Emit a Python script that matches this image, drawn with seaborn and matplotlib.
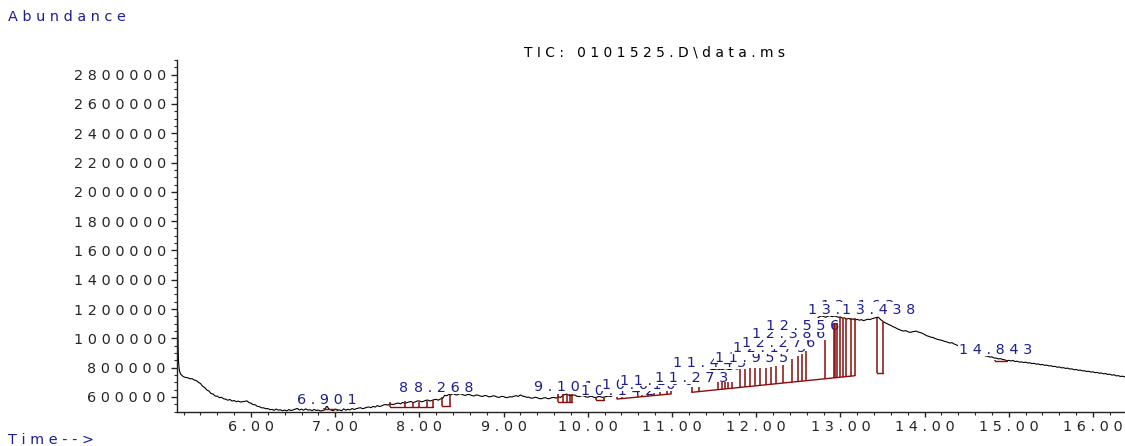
import matplotlib
matplotlib.use("Agg")
import numpy as np
import pandas as pd
import matplotlib.pyplot as plt
import seaborn as sns
from matplotlib.ticker import MultipleLocator, FixedLocator, FuncFormatter
from matplotlib.patches import Rectangle
from matplotlib.transforms import IdentityTransform

# TIC trace: time (min) and abundance (thousands)
time_min = [
    5.130, 5.132, 5.134, 5.137, 5.141, 5.147, 5.155, 5.165, 5.178, 5.190,
    5.200, 5.225, 5.250, 5.275, 5.300, 5.325, 5.350, 5.375, 5.400, 5.425,
    5.450, 5.475, 5.500, 5.525, 5.550, 5.575, 5.600, 5.625, 5.650, 5.675,
    5.700, 5.725, 5.750, 5.775, 5.800, 5.825, 5.850, 5.875, 5.900, 5.925,
    5.950, 5.975, 6.000, 6.025, 6.050, 6.075, 6.100, 6.125, 6.150, 6.175,
    6.200, 6.225, 6.250, 6.275, 6.300, 6.325, 6.350, 6.375, 6.400, 6.425,
    6.450, 6.475, 6.500, 6.525, 6.550, 6.575, 6.600, 6.625, 6.650, 6.675,
    6.700, 6.725, 6.750, 6.775, 6.800, 6.825, 6.850, 6.875, 6.900, 6.925,
    6.950, 6.975, 7.000, 7.025, 7.050, 7.075, 7.100, 7.125, 7.150, 7.175,
    7.200, 7.225, 7.250, 7.275, 7.300, 7.325, 7.350, 7.375, 7.400, 7.425,
    7.450, 7.475, 7.500, 7.525, 7.550, 7.575, 7.600, 7.625, 7.650, 7.675,
    7.700, 7.725, 7.750, 7.775, 7.800, 7.825, 7.850, 7.875, 7.900, 7.925,
    7.950, 7.975, 8.000, 8.025, 8.050, 8.075, 8.100, 8.125, 8.150, 8.175,
    8.200, 8.225, 8.250, 8.275, 8.300, 8.325, 8.350, 8.375, 8.400, 8.425,
    8.450, 8.475, 8.500, 8.525, 8.550, 8.575, 8.600, 8.625, 8.650, 8.675,
    8.700, 8.725, 8.750, 8.775, 8.800, 8.825, 8.850, 8.875, 8.900, 8.925,
    8.950, 8.975, 9.000, 9.025, 9.050, 9.075, 9.100, 9.125, 9.150, 9.175,
    9.200, 9.225, 9.250, 9.275, 9.300, 9.325, 9.350, 9.375, 9.400, 9.425,
    9.450, 9.475, 9.500, 9.525, 9.550, 9.575, 9.600, 9.625, 9.650, 9.675,
    9.700, 9.725, 9.750, 9.775, 9.800, 9.825, 9.850, 9.875, 9.900, 9.925,
    9.950, 9.975, 10.000, 10.025, 10.050, 10.075, 10.100, 10.125, 10.150, 10.175,
    10.200, 10.225, 10.250, 10.275, 10.300, 10.325, 10.350, 10.375, 10.400, 10.425,
    10.450, 10.475, 10.500, 10.525, 10.550, 10.575, 10.600, 10.625, 10.650, 10.675,
    10.700, 10.725, 10.750, 10.775, 10.800, 10.825, 10.850, 10.875, 10.900, 10.925,
    10.950, 10.975, 11.000, 11.025, 11.050, 11.075, 11.100, 11.125, 11.150, 11.175,
    11.200, 11.225, 11.250, 11.275, 11.300, 11.325, 11.350, 11.375, 11.400, 11.425,
    11.450, 11.475, 11.500, 11.525, 11.550, 11.575, 11.600, 11.625, 11.650, 11.675,
    11.700, 11.725, 11.750, 11.775, 11.800, 11.825, 11.850, 11.875, 11.900, 11.925,
    11.950, 11.975, 12.000, 12.025, 12.050, 12.075, 12.100, 12.125, 12.150, 12.175,
    12.200, 12.225, 12.250, 12.275, 12.300, 12.325, 12.350, 12.375, 12.400, 12.425,
    12.450, 12.475, 12.500, 12.525, 12.550, 12.575, 12.600, 12.625, 12.650, 12.675,
    12.700, 12.725, 12.750, 12.775, 12.800, 12.825, 12.850, 12.875, 12.900, 12.925,
    12.950, 12.975, 13.000, 13.025, 13.050, 13.075, 13.100, 13.125, 13.150, 13.175,
    13.200, 13.225, 13.250, 13.275, 13.300, 13.325, 13.350, 13.375, 13.400, 13.425,
    13.450, 13.475, 13.500, 13.525, 13.550, 13.575, 13.600, 13.625, 13.650, 13.675,
    13.700, 13.725, 13.750, 13.775, 13.800, 13.825, 13.850, 13.875, 13.900, 13.925,
    13.950, 13.975, 14.000, 14.025, 14.050, 14.075, 14.100, 14.125, 14.150, 14.175,
    14.200, 14.225, 14.250, 14.275, 14.300, 14.325, 14.350, 14.375, 14.400, 14.425,
    14.450, 14.475, 14.500, 14.525, 14.550, 14.575, 14.600, 14.625, 14.650, 14.675,
    14.700, 14.725, 14.750, 14.775, 14.800, 14.825, 14.850, 14.875, 14.900, 14.925,
    14.950, 14.975, 15.000, 15.025, 15.050, 15.075, 15.100, 15.125, 15.150, 15.175,
    15.200, 15.225, 15.250, 15.275, 15.300, 15.325, 15.350, 15.375, 15.400, 15.425,
    15.450, 15.475, 15.500, 15.525, 15.550, 15.575, 15.600, 15.625, 15.650, 15.675,
    15.700, 15.725, 15.750, 15.775, 15.800, 15.825, 15.850, 15.875, 15.900, 15.925,
    15.950, 15.975, 16.000, 16.025, 16.050, 16.075, 16.100, 16.125, 16.150, 16.175,
    16.200, 16.225, 16.250, 16.275, 16.300, 16.325, 16.350, 16.378]
abundance_k = [
    1180, 1060, 960, 880, 825, 790, 768, 755, 748, 742,
    738, 733, 731, 724, 725, 716, 712, 700, 692, 674,
    664, 648, 641, 624, 620, 606, 606, 595, 598, 588,
    585, 578, 583, 572, 576, 568, 572, 565, 568, 570,
    574, 562, 558, 548, 547, 536, 534, 526, 526, 520,
    521, 514, 515, 509, 518, 510, 513, 506, 511, 505,
    514, 508, 512, 517, 522, 511, 517, 510, 519, 511,
    513, 507, 515, 508, 511, 504, 508, 512, 540, 518,
    512, 506, 517, 509, 512, 506, 519, 510, 516, 512,
    521, 515, 520, 524, 527, 520, 524, 530, 532, 527,
    536, 531, 541, 535, 539, 546, 549, 544, 553, 549,
    550, 556, 559, 553, 563, 558, 561, 566, 569, 562,
    566, 573, 573, 567, 571, 577, 579, 572, 577, 582,
    584, 578, 587, 590, 612, 608, 619, 614, 624, 616,
    614, 622, 620, 613, 611, 618, 616, 609, 607, 614,
    612, 606, 604, 610, 608, 601, 603, 608, 606, 599,
    598, 604, 603, 596, 597, 602, 600, 606, 609, 604,
    614, 606, 603, 598, 599, 592, 593, 598, 595, 589,
    588, 594, 595, 588, 590, 596, 597, 592, 602, 596,
    610, 616, 620, 612, 608, 614, 612, 604, 603, 609,
    608, 601, 598, 605, 604, 597, 597, 603, 602, 597,
    600, 604, 606, 603, 612, 618, 625, 628, 633, 638,
    640, 645, 648, 651, 654, 657, 660, 663, 666, 668,
    671, 674, 677, 681, 684, 687, 690, 694, 697, 700,
    704, 707, 711, 714, 718, 722, 726, 729, 733, 736,
    740, 744, 748, 752, 756, 760, 764, 768, 772, 778,
    782, 788, 786, 791, 790, 785, 787, 793, 792, 788,
    789, 795, 794, 790, 797, 800, 812, 825, 838, 848,
    858, 865, 872, 878, 885, 891, 897, 903, 910, 917,
    925, 932, 940, 947, 955, 961, 968, 974, 980, 987,
    995, 1002, 1010, 1020, 1030, 1042, 1055, 1070, 1085, 1102,
    1120, 1136, 1148, 1154, 1150, 1144, 1151, 1155, 1148, 1153,
    1150, 1144, 1146, 1138, 1140, 1132, 1136, 1129, 1133, 1126,
    1130, 1124, 1128, 1121, 1126, 1131, 1128, 1134, 1138, 1142,
    1145, 1130, 1118, 1108, 1102, 1094, 1088, 1080, 1074, 1066,
    1060, 1054, 1050, 1053, 1046, 1041, 1044, 1047, 1050, 1043,
    1040, 1034, 1026, 1018, 1014, 1008, 1006, 999, 994, 990,
    988, 982, 978, 974, 968, 971, 962, 956, 950, 944,
    938, 934, 930, 922, 916, 910, 905, 898, 892, 888,
    886, 880, 878, 872, 874, 866, 866, 860, 862, 856,
    854, 848, 850, 846, 849, 842, 844, 838, 840, 835,
    838, 832, 834, 828, 830, 824, 826, 820, 822, 816,
    818, 812, 814, 808, 809, 803, 805, 799, 800, 795,
    797, 791, 792, 786, 788, 782, 784, 778, 779, 774,
    776, 770, 772, 766, 768, 762, 764, 758, 760, 754,
    756, 749, 752, 744, 746, 740, 742, 736]

# integration baselines (start t, start value, end t, end value), thousands
base_t0 = [6.87, 7.651, 8.268, 9.646, 10.10, 10.347, 11.234, 13.43, 14.84]
base_v0 = [518, 534, 537, 565, 577, 586, 632, 764, 845]
base_t1 = [7.02, 8.162, 8.363, 9.812, 10.19, 10.99, 13.17, 13.51, 14.98]
base_v1 = [518, 534, 537, 565, 577, 621, 745, 764, 845]

# peak tick marks (time, bottom, top), thousands
tick_t = [6.87, 7.02,
          7.651, 7.829, 7.924, 7.995, 8.09, 8.162, 8.268, 8.363,
          9.646, 9.706, 9.753, 9.789, 9.812, 10.10, 10.19,
          10.347, 10.406, 10.596, 10.644, 10.715, 10.786, 10.857, 10.94, 10.99,
          11.234, 11.325, 11.55, 11.59, 11.63, 11.67, 11.71,
          11.81, 11.87, 11.93, 11.99, 12.05, 12.12, 12.18, 12.24, 12.32,
          12.42, 12.50, 12.54, 12.59, 12.82, 12.92, 12.94, 12.96,
          13.00, 13.03, 13.07, 13.13, 13.17, 13.43, 13.51, 14.84, 14.98]
tick_lo = [518, 518,
           534, 534, 534, 534, 534, 534, 537, 537,
           565, 565, 565, 565, 565, 577, 577,
           586, 589, 599, 602, 606, 610, 614, 618, 621,
           632, 637, 650, 652, 655, 657, 659,
           665, 669, 672, 676, 679, 683, 687, 690, 695,
           701, 705, 708, 711, 724, 730, 731, 732,
           734, 736, 739, 742, 745, 764, 764, 845, 845]
tick_hi = [525, 521,
           568, 575, 568, 568, 575, 582, 598, 614,
           620, 620, 620, 620, 620, 600, 600,
           603, 600, 617, 617, 620, 627, 634, 641, 641,
           668, 668, 702, 702, 702, 702, 702,
           791, 791, 795, 795, 798, 800, 805, 810, 818,
           860, 880, 895, 914, 989, 1105, 1105, 1105,
           1146, 1140, 1140, 1140, 1140, 1140, 1110, 852, 850]

# peak labels in drawing order (text, retention time, label height in thousands)
label_text = ["6.901", "8.114", "8.268", "9.101", "10.142", "10.610", "11.100",
              "11.273", "11.445", "11.955", "12.175", "12.276", "12.386", "12.556",
              "13.163", "13.052", "13.438", "14.843"]
label_rt = [6.901, 8.11, 8.285, 9.71, 10.35, 10.60, 10.82,
            11.23, 11.45, 11.95, 12.16, 12.27, 12.38, 12.556,
            13.20, 13.05, 13.45, 14.843]
label_y = [586, 668, 668, 675, 652, 690, 720,
           736, 840, 875, 940, 975, 1037, 1090,
           1228, 1200, 1200, 928]

y_ticks = [600000, 800000, 1000000, 1200000, 1400000, 1600000, 1800000,
           2000000, 2200000, 2400000, 2600000, 2800000]

BLUE = "#1e1e92"
RED = "#8b0c0c"
FS = 10.4


def spaced(s):
    return " ".join(s)


sns.set_style("ticks")
plt.rcParams['font.family'] = ['DejaVu Sans']

fig = plt.figure(figsize=(11.25, 4.46), dpi=100)
ax = fig.add_axes([177 / 1125, 34 / 446, 948 / 1125, 352 / 446])

df = pd.DataFrame({"time": time_min, "abundance": np.array(abundance_k) * 1000})
sns.lineplot(data=df, x="time", y="abundance", color="black", lw=0.8,
             estimator=None, sort=False, ax=ax, zorder=2)

for t0, v0, t1, v1 in zip(base_t0, base_v0, base_t1, base_v1):
    ax.plot([t0, t1], [v0 * 1000, v1 * 1000], color=RED, lw=1.0, zorder=60)
ax.vlines(tick_t, np.array(tick_lo) * 1000, np.array(tick_hi) * 1000,
          color=RED, lw=1.1, zorder=60)

ax.set_xlim(5.121, 16.38)
ax.set_ylim(497600, 2900000)
sns.despine(ax=ax)
for sp in ("left", "bottom"):
    ax.spines[sp].set_linewidth(1.0)
    ax.spines[sp].set_color("#222222")

ax.xaxis.set_major_locator(MultipleLocator(1))
ax.xaxis.set_minor_locator(MultipleLocator(0.2))
ax.xaxis.set_major_formatter(FuncFormatter(lambda v, p: spaced(f"{v:.2f}")))
ax.yaxis.set_major_locator(FixedLocator(y_ticks))
ax.yaxis.set_minor_locator(MultipleLocator(50000))
ax.yaxis.set_major_formatter(FuncFormatter(lambda v, p: spaced(f"{int(round(v))}")))
ax.tick_params(axis="x", which="major", length=3.6, width=1, pad=2.0, labelsize=FS)
ax.tick_params(axis="x", which="minor", length=2.2, width=0.8)
ax.tick_params(axis="y", which="major", length=4, width=1, pad=4.0, labelsize=FS)
ax.tick_params(axis="y", which="minor", length=2, width=0.8)
ax.set_xlabel("")
ax.set_ylabel("")

fig.text(655 / 1125, 1 - 53 / 446, spaced("TIC: 0101525.D\\data.ms"),
         ha="center", va="center", fontsize=FS - 0.4, color="black")
fig.text(8 / 1125, 1 - 17 / 446, spaced("Abundance"), ha="left", va="center",
         fontsize=FS, color=BLUE)
fig.text(8 / 1125, 1 - 440 / 446, spaced("Time-->"), ha="left", va="center",
         fontsize=FS, color=BLUE)

# peak labels: each one sits on a white box that hides what was drawn before
renderer = fig.canvas.get_renderer()
cap = 0.73 * FS * fig.dpi / 72
for i, (txt, rt, yv) in enumerate(zip(label_text, label_rt, label_y)):
    cx, cy = ax.transData.transform((rt, yv * 1000))
    z = 10 + i
    t = ax.text(cx, cy - cap / 2, spaced(txt), transform=IdentityTransform(),
                ha="center", va="baseline", color=BLUE, fontsize=FS, zorder=z + 0.5)
    bb = t.get_window_extent(renderer)
    ax.add_patch(Rectangle((bb.x0 - 1, cy - cap / 2 - 1.5), bb.width + 2, cap + 3,
                           transform=IdentityTransform(), facecolor="white",
                           edgecolor="none", zorder=z))

fig.savefig("out.png", dpi=100)
